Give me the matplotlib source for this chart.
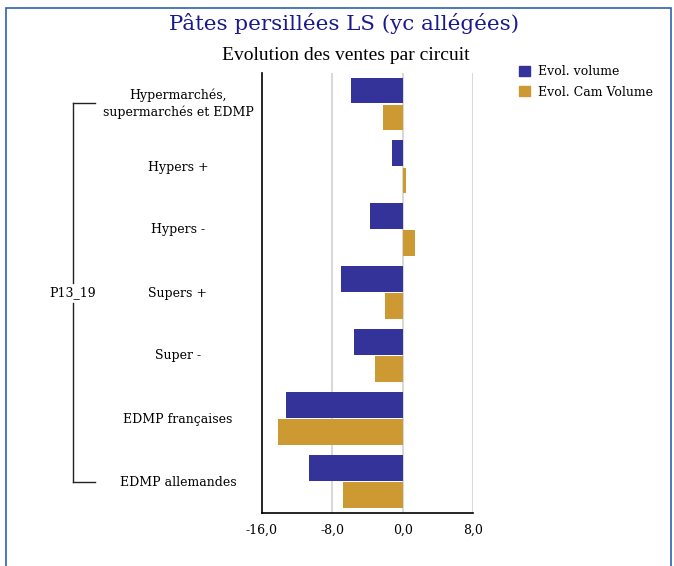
import matplotlib.pyplot as plt
from matplotlib.lines import Line2D
from matplotlib.patches import Rectangle, Patch
import numpy as np

plt.rcParams['font.family'] = ['DejaVu Serif']

# données
categories = ['Hypermarchés,\nsupermarchés et EDMP', 'Hypers +', 'Hypers -',
              'Supers +', 'Super -', 'EDMP françaises', 'EDMP allemandes']
evol_volume = [-5.9, -1.2, -3.7, -7.0, -5.5, -13.3, -10.7]
evol_cam_volume = [-2.2, 0.4, 1.4, -2.0, -3.2, -14.2, -6.8]
xticks = [-16, -8, 0, 8]
group_label = 'P13_19'

c_vol = '#333399'
c_cam = '#CC9933'

W, H = 674, 566
fig = plt.figure(figsize=(W / 100, H / 100), dpi=100)

# cadre bleu
fig.patches.append(Rectangle((6 / W, -0.02), 665 / W, 1 - 8 / H + 0.02,
                             transform=fig.transFigure, fill=False,
                             edgecolor='#2d62b0', linewidth=1.2))

ax = fig.add_axes([262 / W, 1 - 513 / H, 211 / W, 440.5 / H])

y = np.arange(len(categories))
h = 0.41
ax.barh(y - h / 2 - 0.01, evol_volume, height=h, color=c_vol, zorder=3)
ax.barh(y + h / 2 + 0.01, evol_cam_volume, height=h, color=c_cam, zorder=3)

ax.set_xlim(-16, 8)
ax.set_ylim(len(categories) - 0.5, -0.5)
ax.set_xticks(xticks)
ax.set_xticklabels([f'{v:.1f}'.replace('.', ',') for v in xticks], fontsize=9)
ax.set_yticks([])
ax.tick_params(axis='x', length=0, pad=8)
for v in xticks[1:]:
    ax.axvline(v, color='#d9d9d9', linewidth=1.5, zorder=1)
ax.spines['top'].set_visible(False)
ax.spines['right'].set_visible(False)
ax.spines['left'].set_linewidth(1.2)
ax.spines['bottom'].set_linewidth(1.2)

# étiquettes des catégories
for i, lab in enumerate(categories):
    yf = 1 - (104 + 63 * i) / H
    fig.text(178 / W, yf, lab, ha='center', va='center', fontsize=9,
             linespacing=1.3)

# accolade du groupe
xb, xe = 73 / W, 95 / W
ytop, ybot = 1 - 103 / H, 1 - 482 / H
ymid_hi, ymid_lo = 1 - 283 / H, 1 - 303 / H
for seg in [([xb, xe], [ytop, ytop]), ([xb, xe], [ybot, ybot]),
            ([xb, xb], [ytop, ymid_hi]), ([xb, xb], [ymid_lo, ybot])]:
    fig.add_artist(Line2D(seg[0], seg[1], color='#222222', linewidth=1,
                          transform=fig.transFigure))
fig.text(xb, 1 - 293 / H, group_label, ha='center', va='center', fontsize=9)

# titres
fig.text(344 / W, 1 - 23 / H, 'Pâtes persillées LS (yc allégées)',
         ha='center', va='center', fontsize=15.4, color='#1a1a8c')
fig.text(346 / W, 1 - 55 / H, 'Evolution des ventes par circuit',
         ha='center', va='center', fontsize=14,
         family=['Liberation Serif'])

# légende
handles = [Patch(color=c_vol, label='Evol. volume'),
           Patch(color=c_cam, label='Evol. Cam Volume')]
fig.legend(handles=handles, loc='upper left',
           bbox_to_anchor=(514 / W, 1 - 60 / H), frameon=False, fontsize=9,
           handlelength=0.9, handleheight=0.9, handletextpad=0.6,
           labelspacing=0.6, borderaxespad=0)

fig.savefig('out.png', dpi=100)
